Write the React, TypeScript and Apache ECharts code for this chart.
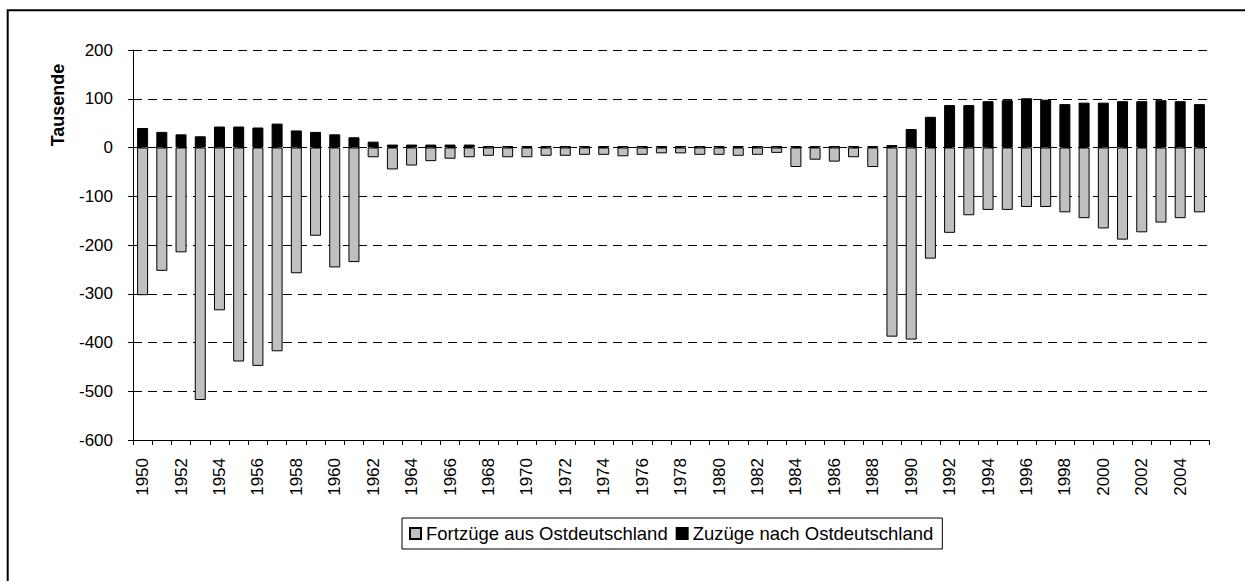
import React, { useEffect, useRef } from "react";
import * as echarts from "echarts";

const years: string[] = [];
for (let y = 1950; y <= 2005; y++) years.push(String(y));

const fortzuege: number[] = [
  -303, -253, -215, -518, -334, -439, -448, -418, -258, -181,
  -246, -235, -20, -45, -37, -28, -23, -20, -17, -20,
  -20, -17, -17, -15, -15, -18, -15, -12, -12, -15,
  -15, -17, -15, -11, -40, -25, -29, -20, -40, -388,
  -394, -228, -175, -139, -128, -128, -122, -122, -133, -145,
  -166, -189, -174, -154, -145, -133,
];

const zuzuege: number[] = [
  40, 32, 27, 23, 43, 43, 41, 49, 35, 32,
  27, 21, 12, 6, 6, 6, 6, 6, 3, 3,
  3, 3, 3, 3, 3, 3, 3, 3, 3, 3,
  3, 3, 3, 3, 3, 3, 3, 3, 3, 5,
  38, 63, 87, 87, 95, 97, 101, 98, 89, 92,
  92, 95, 95, 97, 95, 89,
];

const seriesNames = ["Fortzüge aus Ostdeutschland", "Zuzüge nach Ostdeutschland"];
const yTitle = "Tausende";

const FONT = "'Liberation Sans', Arial, sans-serif";

export default function App() {
  const ref = useRef<HTMLDivElement>(null);
  useEffect(() => {
    if (!ref.current) return;
    const chart = echarts.init(ref.current, undefined, { renderer: "svg" });
    chart.setOption({
      animation: false,
      backgroundColor: "#fff",
      textStyle: { fontFamily: FONT },
      grid: { left: 133, right: 36, top: 50, bottom: 141 },
      graphic: [
        {
          type: "rect",
          shape: { x: 7.7, y: 10.3, width: 1300, height: 700 },
          style: { fill: "none", stroke: "#000", lineWidth: 2 },
          silent: true,
        },
        {
          type: "text",
          x: 58,
          y: 105,
          rotation: Math.PI / 2,
          style: {
            text: yTitle,
            font: `bold 18px ${FONT}`,
            fill: "#000",
            textAlign: "center",
            textVerticalAlign: "middle",
          },
        },
      ],
      legend: {
        data: seriesNames,
        left: 402,
        top: 518,
        orient: "horizontal",
        itemWidth: 11,
        itemHeight: 11,
        itemGap: 8,
        padding: [6, 9, 6, 7],
        borderColor: "#000",
        borderWidth: 1,
        icon: "rect",
        textStyle: { fontSize: 18.5, color: "#000", fontFamily: FONT },
      },
      xAxis: {
        type: "category",
        data: years,
        axisLine: { onZero: false, lineStyle: { color: "#000", width: 1 } },
        axisTick: { show: true, interval: 0, length: 5, lineStyle: { color: "#000" } },
        axisLabel: {
          interval: 1,
          rotate: 90,
          margin: 18,
          fontSize: 17,
          color: "#000",
          fontFamily: FONT,
        },
        splitLine: { show: false },
      },
      yAxis: [
        {
          type: "value",
          min: -600,
          max: 200,
          interval: 100,
          axisLine: { show: true, lineStyle: { color: "#000", width: 1 } },
          axisTick: { show: true, length: 5, lineStyle: { color: "#000" } },
          axisLabel: { margin: 20, fontSize: 17, color: "#000", fontFamily: FONT },
          splitLine: {
            show: true,
            lineStyle: { color: "#000", type: [9, 6], width: 1 },
          },
        },
        {
          type: "value",
          min: -600,
          max: 200,
          interval: 100,
          position: "left",
          axisLine: { show: false },
          axisTick: { show: true, inside: true, length: 6, lineStyle: { color: "#000" } },
          axisLabel: { show: false },
          splitLine: { show: false },
        },
      ],
      series: [
        {
          name: seriesNames[0],
          type: "bar",
          stack: "total",
          data: fortzuege,
          barWidth: 11,
          itemStyle: { color: "#C0C0C0", borderColor: "#000", borderWidth: 1 },
        },
        {
          name: seriesNames[1],
          type: "bar",
          stack: "total",
          data: zuzuege,
          barWidth: 11,
          itemStyle: { color: "#000", borderColor: "#000", borderWidth: 1 },
        },
      ],
    });
    return () => chart.dispose();
  }, []);
  return (
    <div
      ref={ref}
      style={{ position: "fixed", left: 0, top: 0, width: 1245, height: 581 }}
    />
  );
}
